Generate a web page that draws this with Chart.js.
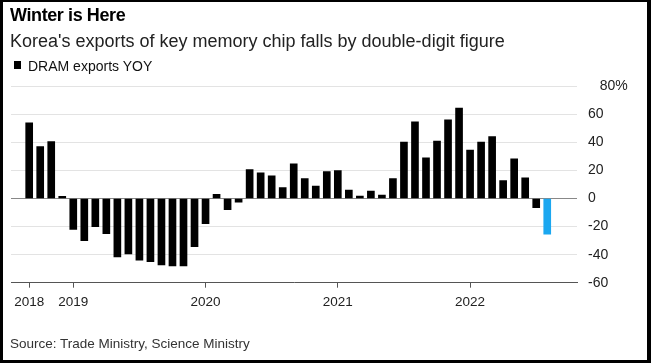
<!DOCTYPE html>
<html>
<head>
<meta charset="utf-8">
<script src="https://cdn.jsdelivr.net/npm/chart.js@4.4.1/dist/chart.umd.min.js"></script>
<style>
  html, body { margin: 0; padding: 0; background: #fff; }
  body { width: 651px; height: 363px; position: relative; overflow: hidden; font-family: "Liberation Sans", Arial, sans-serif; }
  #chart { position: absolute; left: 0; top: 0; }
  .txt { position: absolute; white-space: nowrap; line-height: 1; }
  #title { left: 10px; top: 6px; font-size: 18px; font-weight: bold; letter-spacing: -0.4px; color: #000; }
  #subtitle { left: 10px; top: 31.5px; font-size: 18px; color: #222; }
  #legend { left: 28px; top: 59.2px; font-size: 14px; color: #111; }
  #legend-box { position: absolute; left: 14px; top: 61px; width: 7px; height: 8px; background: #000; }
  #source { left: 10px; top: 337px; font-size: 13.5px; color: #333; }
  #frame { position: absolute; left: 0; top: 0; width: 644px; height: 358px; border-style: solid; border-color: #000; border-width: 2px 4px 3px 3px; pointer-events: none; }
</style>
</head>
<body>
<canvas id="chart" width="651" height="363"></canvas>
<div id="title" class="txt">Winter is Here</div>
<div id="subtitle" class="txt">Korea's exports of key memory chip falls by double-digit figure</div>
<div id="legend-box"></div>
<div id="legend" class="txt">DRAM exports YOY</div>
<div id="source" class="txt">Source: Trade Ministry, Science Ministry</div>
<div id="frame"></div>
<script>
// ----------------- Data -----------------
const months = [
  '2018-09', '2018-10', '2018-11', '2018-12',
  '2019-01', '2019-02', '2019-03', '2019-04', '2019-05', '2019-06',
  '2019-07', '2019-08', '2019-09', '2019-10', '2019-11', '2019-12',
  '2020-01', '2020-02', '2020-03', '2020-04', '2020-05', '2020-06',
  '2020-07', '2020-08', '2020-09', '2020-10', '2020-11', '2020-12',
  '2021-01', '2021-02', '2021-03', '2021-04', '2021-05', '2021-06',
  '2021-07', '2021-08', '2021-09', '2021-10', '2021-11', '2021-12',
  '2022-01', '2022-02', '2022-03', '2022-04', '2022-05', '2022-06',
  '2022-07', '2022-08'
];

// DRAM exports, % change year over year
const dramYoy = [
  54, 37, 40.6, 1.5,
  -22, -30, -20, -25, -41.6, -39.5,
  -44, -45, -47.3, -48, -48, -34.4,
  -18, 3, -8, -2.6, 20.7, 18.3,
  16.2, 7.8, 24.7, 14.3, 8.8, 19.2,
  20, 6, 1.7, 5.3, 2.4, 14.3,
  40.2, 54.7, 29, 40.9, 56.1, 64.4,
  34.5, 40.2, 44.2, 12.8, 28.3, 14.8,
  -6.6, -25.4
];

const yearLabels = ['2018', '2019', '2020', '2021', '2022'];
const yearTickMonths = ['2018-09', '2019-01', '2020-01', '2021-01', '2022-01'];
const yTickLabels = ['-60', '-40', '-20', '0', '20', '40', '60', '80%'];

// ----------------- Chart -----------------
const FONT = '"Liberation Sans", Arial, sans-serif';
const yearTickIdx = yearTickMonths.map(m => months.indexOf(m));
const lastIdx = dramYoy.length - 1;

const ctx = document.getElementById('chart').getContext('2d');

new Chart(ctx, {
  type: 'bar',
  data: {
    datasets: [{
      label: 'DRAM exports YOY',
      data: months.map((m, i) => ({ x: i, y: dramYoy[i] })),
      backgroundColor: c => c.dataIndex === lastIdx ? '#1ba7f0' : '#000',
      borderWidth: 0,
      barThickness: 7
    }]
  },
  options: {
    responsive: false,
    animation: false,
    layout: { padding: { left: 11, top: 86.3, right: 14, bottom: 50.3 } },
    plugins: {
      legend: { display: false },
      tooltip: { enabled: false }
    },
    scales: {
      x: {
        type: 'linear',
        min: -1.65,
        max: 49.7,
        offset: false,
        grid: { display: true, drawOnChartArea: false, drawTicks: true, tickLength: 5, color: '#555', offset: false },
        border: { display: true, color: '#555', width: 1 },
        ticks: {
          autoSkip: false,
          maxRotation: 0,
          padding: 6,
          color: '#222',
          font: { family: FONT, size: 13.5 },
          callback: (v, i) => yearLabels[i]
        },
        afterBuildTicks: s => { s.ticks = yearTickIdx.map(v => ({ value: v })); },
        afterFit: s => { s.height = 30; }
      },
      y: {
        position: 'right',
        min: -60,
        max: 80,
        grid: {
          drawTicks: false,
          color: c => c.tick && c.tick.value === 0 ? '#888' : '#e3e3e3'
        },
        border: { display: false },
        ticks: {
          stepSize: 20,
          padding: 11,
          color: '#222',
          font: { family: FONT, size: 14 },
          callback: (v, i) => (v === 80 ? '   ' : '') + yTickLabels[i]
        },
        afterFit: s => { s.width = 60; }
      }
    }
  }
});
</script>
</body>
</html>
